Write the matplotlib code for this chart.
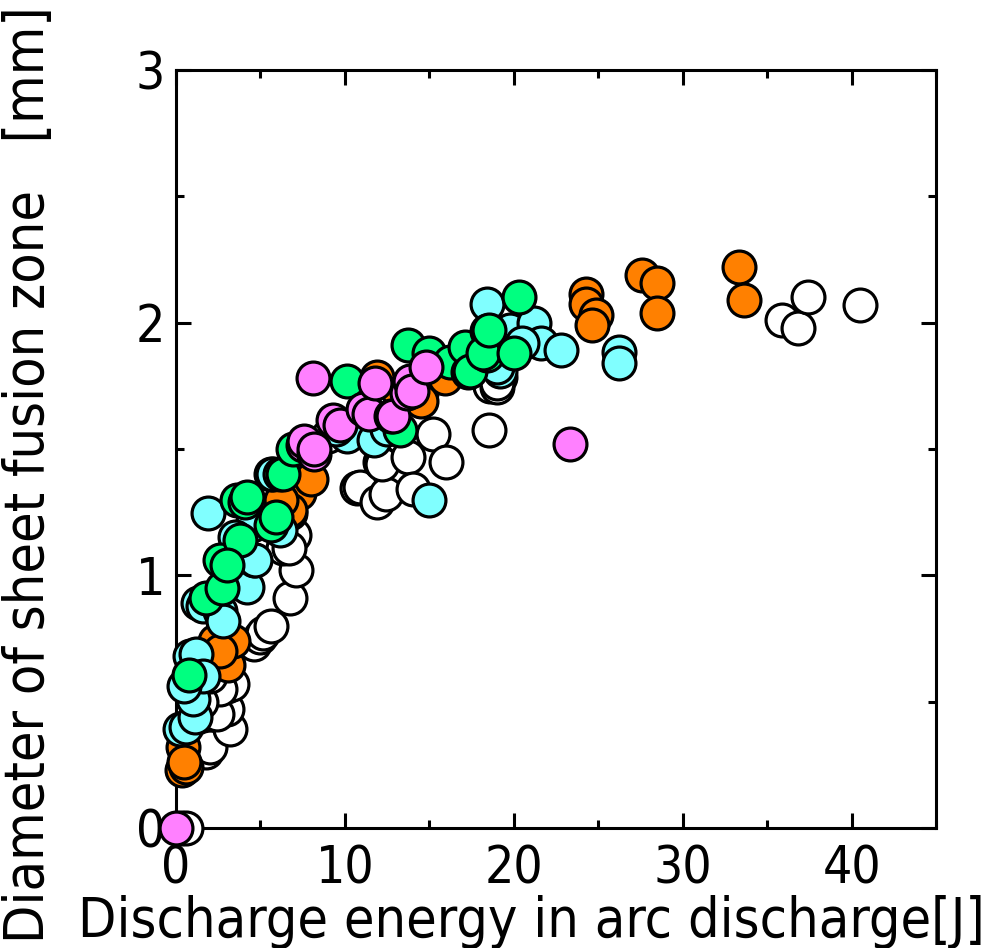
import matplotlib
matplotlib.use("Agg")
import matplotlib.pyplot as plt
from matplotlib.ticker import MultipleLocator

# Discharge energy [J] and fusion-zone diameter [mm] for each sample group
open_x = [0.3, 0.6, 1.8, 2.0, 3.2, 3.0, 2.4, 3.0, 3.3, 2.6, 1.5, 2.0,
          4.6, 5.0, 5.15, 5.6, 6.75, 7.1, 6.35, 7.0, 6.7,
          9.0, 10.5, 11.5, 13.0, 14.5,
          10.7, 10.9, 11.9, 12.45, 12.1, 12.2, 13.75, 14.05, 15.2, 16.0, 18.5,
          18.6, 19.0, 19.2, 19.0,
          35.9, 36.8, 37.4, 40.5]
open_y = [0.0, 0.0, 0.30, 0.32, 0.39, 0.47, 0.45, 0.56, 0.57, 0.55, 0.50, 0.60,
          0.73, 0.757, 0.77, 0.80, 0.91, 1.02, 1.11, 1.16, 1.11,
          1.55, 1.60, 1.58, 1.70, 1.72,
          1.345, 1.35, 1.29, 1.32, 1.45, 1.44, 1.47, 1.34, 1.56, 1.45, 1.575,
          1.75, 1.745, 1.786, 1.76,
          2.01, 1.98, 2.10, 2.07]

orange_x = [0.34, 0.6, 0.43, 0.5,
            2.3, 3.1, 3.4, 2.6,
            6.75, 7.1, 7.3, 8.0, 6.75, 6.2,
            11.9, 15.9, 14.0, 13.2, 14.5,
            24.3, 24.3, 24.85, 24.6,
            27.6, 28.5, 28.5, 33.3, 33.6]
orange_y = [0.23, 0.24, 0.32, 0.26,
            0.74, 0.645, 0.74, 0.70,
            1.245, 1.34, 1.325, 1.38, 1.26, 1.30,
            1.785, 1.78, 1.75, 1.72, 1.69,
            2.115, 2.075, 2.03, 1.99,
            2.19, 2.155, 2.04, 2.22, 2.09]

cyan_x = [0.24, 0.6, 1.1, 1.0, 0.83, 1.2, 1.6, 0.5,
          1.3, 1.6, 2.6, 2.8, 4.2, 4.6, 4.7,
          1.9, 5.65, 6.15, 5.75, 4.5, 3.5,
          10.1, 11.7, 9.5, 12.5,
          15.0,
          18.4, 19.8, 19.2, 19.0, 21.2, 21.6, 22.8, 26.2, 26.2, 20.5]
cyan_y = [0.39, 0.40, 0.44, 0.51, 0.68, 0.69, 0.60, 0.56,
          0.89, 0.88, 0.86, 0.82, 0.955, 1.06, 1.06,
          1.245, 1.40, 1.18, 1.40, 1.20, 1.15,
          1.55, 1.535, 1.58, 1.58,
          1.30,
          2.075, 1.97, 1.81, 1.825, 2.0, 1.92, 1.89, 1.885, 1.84, 1.92]

green_x = [0.8,
           1.8, 2.7, 2.6, 3.8, 3.6, 4.1, 5.6, 5.95, 6.15, 6.35, 6.9, 4.2, 3.0,
           10.1, 13.25,
           13.75, 15.0, 16.2, 17.3, 17.1, 17.4, 18.4, 18.4, 18.2, 20.0, 20.3, 18.5]
green_y = [0.605,
           0.91, 0.95, 1.06, 1.14, 1.30, 1.29, 1.20, 1.23, 1.40, 1.40, 1.50, 1.31, 1.04,
           1.77, 1.575,
           1.91, 1.88, 1.845, 1.805, 1.905, 1.81, 1.965, 1.87, 1.88, 1.88, 2.10, 1.97]

pink_x = [0.0,
          7.5, 7.6, 8.2, 8.2,
          8.1, 9.3, 9.7, 11.1, 11.4, 11.8, 12.75, 12.85, 13.65, 13.85, 14.0, 14.8,
          23.35]
pink_y = [0.0,
          1.515, 1.53, 1.48, 1.50,
          1.78, 1.615, 1.595, 1.66, 1.64, 1.76, 1.63, 1.63, 1.72, 1.77, 1.73, 1.825,
          1.52]

x_ticks = [0, 10, 20, 30, 40]
y_ticks = [0, 1, 2, 3]

FONT = dict(family="DejaVu Sans", stretch="condensed")

fig = plt.figure(figsize=(9.97, 9.48), dpi=100)
ax = fig.add_axes([0.1765, 0.1266, 0.7625, 0.7996])

marker_kw = dict(s=560, edgecolors="black", linewidths=2.3, zorder=3, clip_on=False)
ax.scatter(open_x, open_y, facecolors="white", **marker_kw)
ax.scatter(orange_x, orange_y, facecolors="#FF8000", **marker_kw)
ax.scatter(cyan_x, cyan_y, facecolors="#80FFFF", **marker_kw)
ax.scatter(green_x, green_y, facecolors="#00FF80", **marker_kw)
ax.scatter(pink_x, pink_y, facecolors="#FF80FF", **marker_kw)

ax.set_xlim(0, 45)
ax.set_ylim(0, 3)
ax.set_xticks(x_ticks)
ax.set_yticks(y_ticks)
ax.xaxis.set_minor_locator(MultipleLocator(5))
ax.yaxis.set_minor_locator(MultipleLocator(0.5))

for sp in ax.spines.values():
    sp.set_linewidth(2.2)

ax.tick_params(which="both", direction="in", top=True, right=True, width=2.2)
ax.tick_params(which="major", length=11)
ax.tick_params(which="minor", length=5.5)
ax.tick_params(axis="x", which="major", pad=12)
ax.tick_params(axis="y", which="major", pad=8)

for lab in ax.get_xticklabels() + ax.get_yticklabels():
    lab.set_fontsize(37)
    lab.set_fontfamily(FONT["family"])
    lab.set_fontstretch(FONT["stretch"])

ax.set_xlabel("Discharge energy in arc discharge[J]", fontsize=40, **FONT)
ax.set_ylabel("Diameter of sheet fusion zone   [mm]", fontsize=40, **FONT)
ax.xaxis.set_label_coords(0.468, -0.088)
ax.yaxis.set_label_coords(-0.158, 0.466)

fig.savefig("out.png", dpi=100)
